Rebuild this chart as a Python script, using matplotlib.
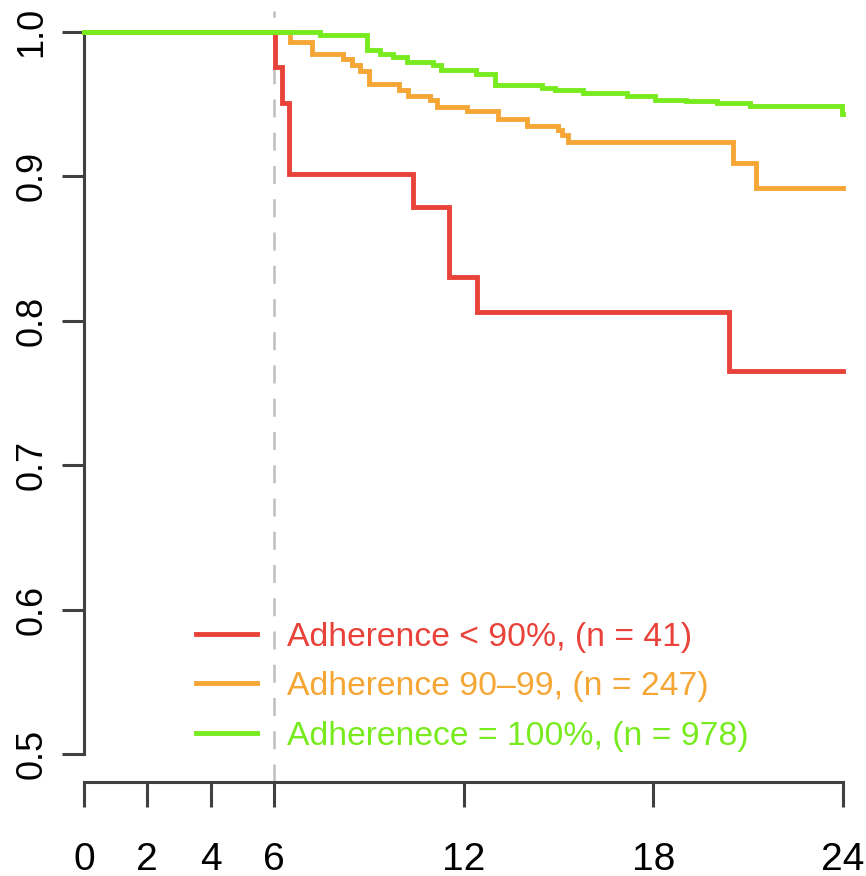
import matplotlib
matplotlib.use("Agg")
import matplotlib.pyplot as plt
from matplotlib.lines import Line2D

# ---- data (months, survival) ----
red_t = [0, 6.03, 6.26, 6.48, 10.40, 11.55, 12.44, 20.40, 24]
red_s = [1.0, 0.976, 0.951, 0.902, 0.879, 0.830, 0.806, 0.765, 0.765]

orange_t = [0, 6.52, 7.22, 8.18, 8.47, 8.73, 9.00, 9.95, 10.26, 10.95, 11.16,
            12.10, 13.10, 14.00, 14.99, 15.11, 15.30, 20.51, 21.25, 24]
orange_s = [1.0, 0.993, 0.985, 0.981, 0.977, 0.973, 0.964, 0.960, 0.956, 0.953, 0.948,
            0.945, 0.940, 0.935, 0.932, 0.929, 0.924, 0.909, 0.892, 0.892]

green_t = [0, 7.47, 8.95, 9.37, 9.78, 10.20, 11.05, 11.30, 12.40, 13.00, 14.47,
           14.89, 15.78, 17.17, 18.06, 19.03, 20.00, 21.06, 23.96, 24]
green_s = [1.0, 0.998, 0.9875, 0.985, 0.983, 0.979, 0.977, 0.974, 0.971, 0.963, 0.961,
           0.960, 0.958, 0.956, 0.953, 0.952, 0.951, 0.949, 0.943, 0.943]

labels = ["Adherence < 90%, (n = 41)",
          "Adherence 90\u201399, (n = 247)",
          "Adherenece = 100%, (n = 978)"]
colors = ["#E9423A", "#F5A635", "#78EB1E"]

x_ticks = [0, 2, 4, 6, 12, 18, 24]
y_ticks = [0.5, 0.6, 0.7, 0.8, 0.9, 1.0]
y_ticklabels = ["0.5", "0.6", "0.7", "0.8", "0.9", "1.0"]
landmark = 6

plt.rcParams['font.family'] = ["Liberation Sans", "DejaVu Sans"]

axis_col = "#404040"

fig = plt.figure(figsize=(8.66, 8.76), dpi=100)
ax = fig.add_axes([84/866, 1-754/876, 759/866, 722/876])

ax.axvline(landmark, ymin=-0.039, ymax=1.029, color="#BEBEBE", lw=1.8,
           dashes=(7.2, 6.1), clip_on=False, zorder=1)

for t, s, c in zip([red_t, orange_t, green_t], [red_s, orange_s, green_s], colors):
    ax.step(t, s, where="post", color=c, lw=3.5, clip_on=False, zorder=3,
            solid_joinstyle="miter")

ax.set_xlim(0, 24)
ax.set_ylim(0.5, 1.0)

for side in ("top", "right"):
    ax.spines[side].set_visible(False)
ax.spines["left"].set_linewidth(2.2)
ax.spines["left"].set_color(axis_col)
ax.spines["bottom"].set_linewidth(2.2)
ax.spines["bottom"].set_color(axis_col)
ax.spines["bottom"].set_position(("outward", 20))

ax.set_xticks(x_ticks)
ax.set_xticklabels([str(v) for v in x_ticks], fontsize=28)
ax.set_yticks(y_ticks)
ax.set_yticklabels(y_ticklabels, rotation=90, va="center", fontsize=26)
ax.tick_params(axis="x", length=18, width=2.2, color=axis_col, pad=25)
ax.tick_params(axis="y", length=16, width=2.2, color=axis_col, pad=9)

handles = [Line2D([], [], color=c, lw=3.5) for c in colors]
leg = ax.legend(handles, labels, loc="lower left", bbox_to_anchor=(0.1476, 0.003),
                frameon=False, borderpad=0, borderaxespad=0,
                handlelength=1.81, handletextpad=0.89, labelspacing=0.55,
                prop={"size": 24.3})
for txt, c in zip(leg.get_texts(), colors):
    txt.set_color(c)

fig.savefig("out.png", dpi=100)
